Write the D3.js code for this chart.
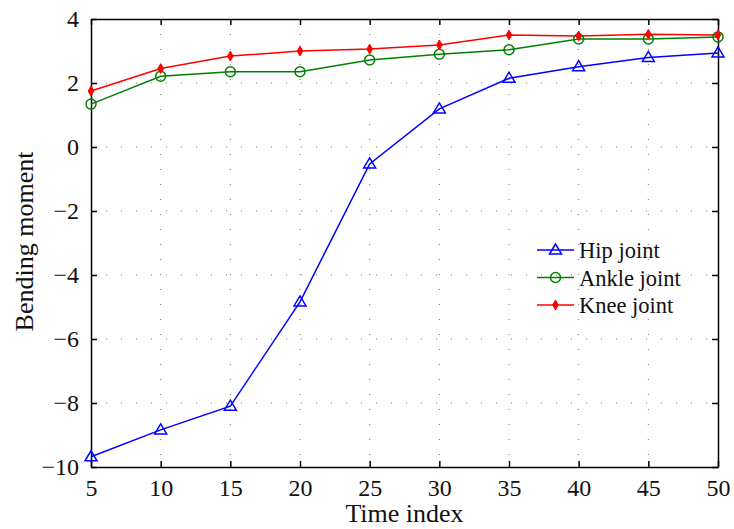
<!DOCTYPE html>
<html><head><meta charset="utf-8">
<script src="https://cdn.jsdelivr.net/npm/d3@7"></script>
<style>body{margin:0;background:#fff}svg{display:block}</style>
</head><body><svg id="c" width="734" height="529"></svg>
<script>
const timeIndex = [5,10,15,20,25,30,35,40,45,50];
const hipJoint   = [-9.68,-8.84,-8.1,-4.84,-0.53,1.19,2.15,2.51,2.8,2.94];
const ankleJoint = [1.34,2.21,2.35,2.35,2.72,2.9,3.04,3.375,3.375,3.44];
const kneeJoint  = [1.75,2.45,2.84,3.0,3.06,3.19,3.5,3.47,3.52,3.5];
const xTicks = [5,10,15,20,25,30,35,40,45,50];
const yTicks = [-10,-8,-6,-4,-2,0,2,4];
const seriesNames = ["Hip joint","Ankle joint","Knee joint"];
const seriesColors = ["#0000ff","#008000","#ff0000"];

const svg = d3.select("#c");
const L=91,R=718,T=19,B=467;
const x = d3.scaleLinear().domain([5,50]).range([L,R]);
const y = d3.scaleLinear().domain([-10,4]).range([B,T]);
const font = "'Liberation Serif','Times New Roman',serif";

// grid
const g = svg.append("g");
g.selectAll(".gx").data(xTicks.slice(1,-1)).enter().append("line")
 .attr("x1",d=>x(d)).attr("x2",d=>x(d)).attr("y1",T).attr("y2",B)
 .attr("stroke","#777").attr("stroke-width",1).attr("stroke-dasharray","1,14");
g.selectAll(".gy").data(yTicks.slice(1,-1)).enter().append("line")
 .attr("y1",d=>y(d)).attr("y2",d=>y(d)).attr("x1",L).attr("x2",R)
 .attr("stroke","#777").attr("stroke-width",1).attr("stroke-dasharray","1,14");

// axes (ticks inward)
const ax = svg.append("g").attr("transform",`translate(0,${B})`)
 .call(d3.axisBottom(x).tickValues(xTicks).tickSize(-6).tickPadding(12).tickSizeOuter(0));
const axT = svg.append("g").attr("transform",`translate(0,${T})`)
 .call(d3.axisTop(x).tickValues(xTicks).tickSize(-6).tickFormat("").tickSizeOuter(0));
const ay = svg.append("g").attr("transform",`translate(${L},0)`)
 .call(d3.axisLeft(y).tickValues(yTicks).tickSize(-6).tickPadding(12).tickSizeOuter(0)
   .tickFormat(d=>d<0?"\u2212"+Math.abs(d):d));
const ayR = svg.append("g").attr("transform",`translate(${R},0)`)
 .call(d3.axisRight(y).tickValues(yTicks).tickSize(-6).tickFormat("").tickSizeOuter(0));
[ax,axT,ay,ayR].forEach(a=>{
  a.selectAll("path").attr("stroke","#000").attr("stroke-width",1.5);
  a.selectAll("line").attr("stroke","#000").attr("stroke-width",1.5);
  a.selectAll("text").attr("font-family",font).attr("font-size",24).attr("fill","#111");
});

// lines
const data = [hipJoint, ankleJoint, kneeJoint];
const line = d3.line().x((d,i)=>x(timeIndex[i])).y(d=>y(d));
data.forEach((s,k)=>{
  svg.append("path").datum(s).attr("d",line).attr("fill","none")
    .attr("stroke",seriesColors[k]).attr("stroke-width",1.5);
});
function marker(sel,k,cx,cy){
  if(k===0){
    sel.append("path").attr("d",`M${cx},${cy-6}L${cx+6},${cy+4}L${cx-6},${cy+4}Z`)
      .attr("fill","none").attr("stroke",seriesColors[0]).attr("stroke-width",1.5);
  } else if(k===1){
    sel.append("circle").attr("cx",cx).attr("cy",cy).attr("r",5)
      .attr("fill","none").attr("stroke",seriesColors[1]).attr("stroke-width",1.5);
  } else {
    sel.append("path").attr("d",d3.symbol(d3.symbolDiamond,28)()).attr("transform",`translate(${cx},${cy})`)
      .attr("fill",seriesColors[2]).attr("stroke",seriesColors[2]).attr("stroke-width",1);
  }
}
const mk = svg.append("g");
data.forEach((s,k)=>s.forEach((v,i)=>marker(mk,k,x(timeIndex[i]),y(v))));

// legend
const lg = svg.append("g");
seriesNames.forEach((n,k)=>{
  const yy = 250 + k*27.5;
  lg.append("line").attr("x1",537).attr("x2",574).attr("y1",yy).attr("y2",yy)
    .attr("stroke",seriesColors[k]).attr("stroke-width",1.5);
  marker(lg,k,555.5,yy);
  lg.append("text").attr("x",579).attr("y",yy+8).text(n)
    .attr("font-family",font).attr("font-size",22.5).attr("fill","#111");
});

// labels
svg.append("text").attr("x",404.5).attr("y",522).attr("text-anchor","middle")
 .attr("font-family",font).attr("font-size",26).attr("fill","#111").text("Time index");
svg.append("text").attr("transform","translate(33,241.5) rotate(-90)").attr("text-anchor","middle")
 .attr("font-family",font).attr("font-size",26).attr("fill","#111").text("Bending moment");
</script></body></html>
